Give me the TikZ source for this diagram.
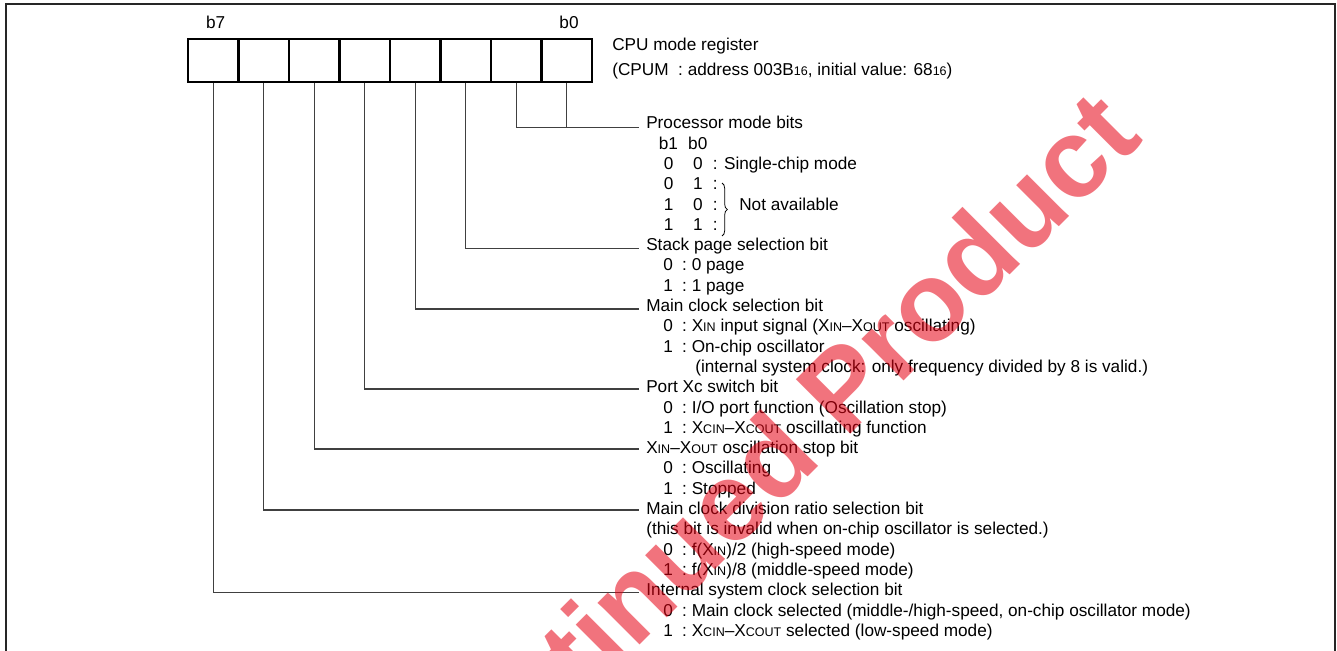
\documentclass[tikz,border=0pt]{standalone}
\usepackage{fontspec}
\setmainfont{Liberation Sans}
\usetikzlibrary{decorations.pathreplacing}
\newcommand\mfs{\fontsize{12.9pt}{15pt}\selectfont}
\newcommand\sml[1]{{\fontsize{9.4pt}{10pt}\selectfont #1}}
\newcommand\bv[2]{\makebox[14.2pt][l]{#1}:\ #2}
\newcommand\pmrow[2]{\makebox[22pt][l]{#1}\makebox[14.8pt][l]{#2}:}
\definecolor{wm}{RGB}{230,0,18}
\begin{document}
\begin{tikzpicture}[x=0.75pt,y=-0.75pt,
  txt/.style={anchor=base west,inner sep=0pt,font=\mfs},
  cell/.style={draw,line width=1.5pt,minimum width=37.9pt,minimum height=32pt,inner sep=0pt},
  lead/.style={line width=0.9pt,black!75},
  frame/.style={line width=1.5pt,black!85},
  wmark/.style={rotate=45,anchor=base east,inner sep=0pt,text=wm,text opacity=0.55,font=\fontsize{84pt}{84pt}\selectfont\bfseries},
]
\useasboundingbox (0,0) rectangle (1337,650);
\draw[frame] (6,670) -- (6,4) -- (1335,4) -- (1335,670);

% register cells (c0 = b0 ... c7 = b7)
\foreach \k in {0,...,7} \node[cell] (c\k) at ({566.75-50.5*\k},60.3) {};
\node[font=\mfs,inner sep=0pt] (lb7) at (215.7,22.7) {b7};
\node[font=\mfs,inner sep=0pt] (lb0) at (569,22.7) {b0};
\node[txt] (title) at (612,50.5) {CPU mode register};
\node[txt] (addr) at (612,75.5) {(CPUM\ \ : address 003B\sml{16}, initial value: 68\sml{16})};

% leader end points
\coordinate (e0) at (639,127.5);
\coordinate (e2) at (639,248.5);
\coordinate (e3) at (639,309.0);
\coordinate (e4) at (639,389.0);
\coordinate (e5) at (639,449.0);
\coordinate (e6) at (639,510.0);
\coordinate (e7) at (639,592.5);

% Processor mode bits
\node[txt] (h0) at (646,128.8) {Processor mode bits};
\node[txt] (hb) at (658.5,149.1) {\makebox[22.1pt][l]{b1}b0};
\node[txt] (r00) at (663.6,169.4) {\pmrow{0}{0} Single-chip mode};
\node[txt] (r01) at (663.6,189.7) {\pmrow{0}{1}};
\node[txt] (r10) at (663.6,210.0) {\pmrow{1}{0}};
\node[txt] (r11) at (663.6,230.3) {\pmrow{1}{1}};
\draw[line width=0.6pt,decorate,decoration={brace,amplitude=4pt}] (722,183) -- (722,236);
\node[txt] (na) at (739,210.0) {Not available};

% Stack page
\node[txt] (h2) at (646,250.6) {Stack page selection bit};
\node[txt] at (663,270.9) {\bv{0}{0 page}};
\node[txt] at (663,291.2) {\bv{1}{1 page}};

% Main clock selection
\node[txt] (h3) at (646,311.5) {Main clock selection bit};
\node[txt] at (663,331.8) {\bv{0}{X\sml{IN} input signal (X\sml{IN}--X\sml{OUT} oscillating)}};
\node[txt] at (663,352.1) {\bv{1}{On-chip oscillator}};
\node[txt] at (695,372.4) {(internal system clock: only frequency divided by 8 is valid.)};

% Port Xc
\node[txt] (h4) at (646,392.7) {Port Xc switch bit};
\node[txt] at (663,413.0) {\bv{0}{I/O port function (Oscillation stop)}};
\node[txt] at (663,433.3) {\bv{1}{X\sml{CIN}--X\sml{COUT} oscillating function}};

% XIN-XOUT stop
\node[txt] (h5) at (646,453.6) {X\sml{IN}--X\sml{OUT} oscillation stop bit};
\node[txt] at (663,473.9) {\bv{0}{Oscillating}};
\node[txt] at (663,494.2) {\bv{1}{Stopped}};

% Main clock division
\node[txt] (h6) at (646,514.5) {Main clock division ratio selection bit};
\node[txt] at (646,534.8) {(this bit is invalid when on-chip oscillator is selected.)};
\node[txt] at (663,555.1) {\bv{0}{f(X\sml{IN})/2 (high-speed mode)}};
\node[txt] at (663,575.4) {\bv{1}{f(X\sml{IN})/8 (middle-speed mode)}};

% Internal system clock
\node[txt] (h7) at (646,595.7) {Internal system clock selection bit};
\node[txt] at (663,616.0) {\bv{0}{Main clock selected (middle-/high-speed, on-chip oscillator mode)}};
\node[txt] at (663,636.3) {\bv{1}{X\sml{CIN}--X\sml{COUT} selected (low-speed mode)}};

% leaders
\draw[lead] (c0.south) |- (e0);
\draw[lead] (c1.south) |- (e0);
\draw[lead] (c2.south) |- (e2);
\draw[lead] (c3.south) |- (e3);
\draw[lead] (c4.south) |- (e4);
\draw[lead] (c5.south) |- (e5);
\draw[lead] (c6.south) |- (e6);
\draw[lead] (c7.south) |- (e7);

% watermark
\node[wmark] (wm) at (1145,140) {Discontinued Product};
\end{tikzpicture}
\end{document}
